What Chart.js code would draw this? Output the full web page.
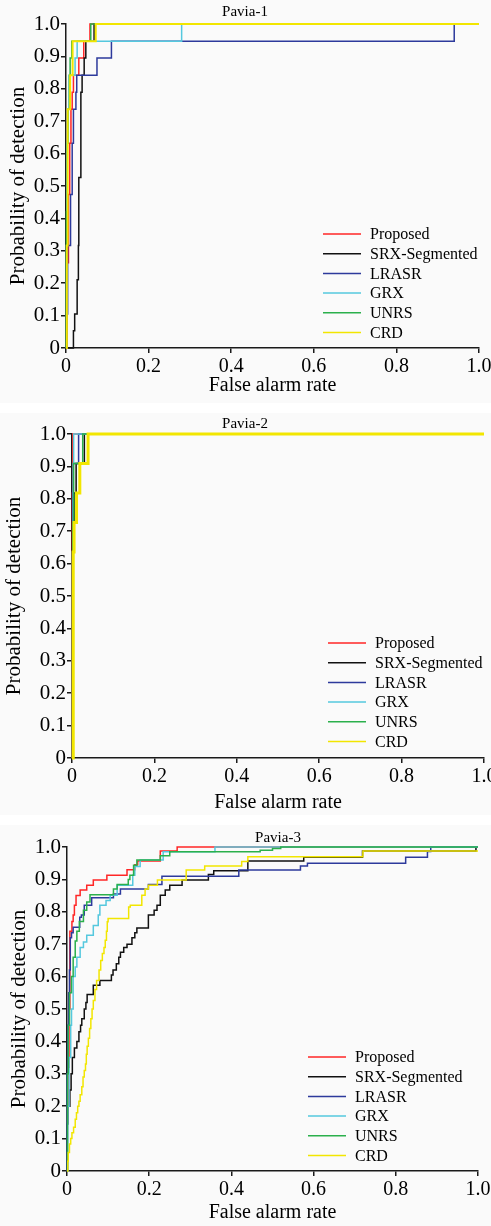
<!DOCTYPE html>
<html>
<head>
<meta charset="utf-8">
<title>ROC curves - Pavia</title>
<script src="https://cdn.jsdelivr.net/npm/chart.js@4.4.1/dist/chart.umd.min.js"></script>
<style>
    html, body { margin: 0; padding: 0; background: #ffffff; }
    .panel { position: absolute; left: 0; background: #fafafa; }
</style>
</head>
<body>

<canvas id="pavia1" class="panel" width="491" height="403" style="top:0px"></canvas>
<canvas id="pavia2" class="panel" width="491" height="402" style="top:413px"></canvas>
<canvas id="pavia3" class="panel" width="491" height="401" style="top:825px"></canvas>

<script>

/* ===============================
   Data (false alarm rate, detection)
=============================== */

const methods = ["Proposed", "SRX-Segmented", "LRASR", "GRX", "UNRS", "CRD"];

const xLabel = "False alarm rate";
const yLabel = "Probability of detection";

// Pavia-1
const p1Proposed = [[0,0],[0.003,0.263],[0.006,0.474],[0.009,0.632],[0.012,0.737],[0.015,0.789],[0.018,0.842],[0.031,0.895],[0.043,0.947],[0.058,1.0],[1,1]];
const p1Srx = [[0,0],[0.018,0.053],[0.021,0.105],[0.027,0.211],[0.030,0.316],[0.031,0.526],[0.036,0.789],[0.039,0.842],[0.044,0.895],[0.048,0.947],[0.068,1.0],[1,1]];
const p1Lrasr = [[0,0],[0.002,0.105],[0.004,0.316],[0.011,0.474],[0.015,0.632],[0.018,0.737],[0.024,0.789],[0.026,0.842],[0.075,0.895],[0.11,0.947],[0.94,1.0],[1,1]];
const p1Grx = [[0,0],[0.001,0.316],[0.002,0.632],[0.004,0.737],[0.008,0.842],[0.022,0.895],[0.027,0.947],[0.28,1.0],[1,1]];
const p1Unrs = [[0,0],[0.001,0.421],[0.003,0.632],[0.005,0.737],[0.008,0.842],[0.01,0.895],[0.014,0.947],[0.06,1.0],[1,1]];
const p1Crd = [[0,0],[0.002,0.316],[0.004,0.737],[0.01,0.842],[0.016,0.947],[0.072,1.0],[1,1]];

// Pavia-2
const p2Proposed = [[0,0],[0.001,0.818],[0.002,1.0],[1,1]];
const p2Srx = [[0,0],[0.003,0.727],[0.005,0.818],[0.01,0.909],[0.03,1.0],[1,1]];
const p2Lrasr = [[0,0],[0.002,0.818],[0.003,0.909],[0.016,1.0],[1,1]];
const p2Grx = [[0,0],[0.001,0.636],[0.003,0.909],[0.004,1.0],[1,1]];
const p2Unrs = [[0,0],[0.002,0.727],[0.004,0.909],[0.026,1.0],[1,1]];
const p2Crd = [[0,0],[0.003,0.636],[0.005,0.727],[0.011,0.818],[0.019,0.909],[0.039,1.0],[1,1]];

// Pavia-3
const p3Proposed = [[0,0],[0.001,0.2],[0.003,0.32],[0.005,0.5],[0.007,0.74],[0.012,0.77],[0.015,0.79],[0.018,0.82],[0.022,0.85],[0.032,0.867],[0.048,0.882],[0.064,0.898],[0.097,0.913],[0.146,0.93],[0.165,0.945],[0.172,0.957],[0.227,0.988],[0.268,1.0],[1,1]];
const p3Srx = [[0,0],[0,0.145],[0.002,0.2],[0.007,0.25],[0.01,0.3],[0.013,0.35],[0.018,0.38],[0.024,0.4],[0.029,0.43],[0.033,0.45],[0.036,0.47],[0.042,0.5],[0.046,0.52],[0.049,0.545],[0.064,0.573],[0.08,0.588],[0.108,0.605],[0.112,0.62],[0.12,0.64],[0.126,0.66],[0.13,0.675],[0.138,0.69],[0.146,0.7],[0.158,0.72],[0.165,0.735],[0.17,0.75],[0.198,0.79],[0.212,0.805],[0.219,0.82],[0.227,0.851],[0.239,0.867],[0.25,0.882],[0.28,0.898],[0.344,0.915],[0.357,0.927],[0.44,0.957],[0.576,0.968],[0.719,0.988],[0.995,1.0],[1,1]];
const p3Lrasr = [[0,0],[0,0.3],[0.002,0.45],[0.004,0.55],[0.006,0.62],[0.008,0.72],[0.011,0.735],[0.015,0.752],[0.031,0.783],[0.035,0.79],[0.042,0.82],[0.06,0.843],[0.113,0.855],[0.13,0.87],[0.198,0.884],[0.231,0.91],[0.418,0.929],[0.568,0.941],[0.585,0.95],[0.824,0.968],[0.877,0.986],[0.885,1.0],[1,1]];
const p3Grx = [[0,0],[0.002,0.2],[0.005,0.35],[0.009,0.45],[0.011,0.5],[0.015,0.6],[0.02,0.63],[0.024,0.66],[0.032,0.69],[0.04,0.707],[0.048,0.728],[0.064,0.758],[0.076,0.79],[0.08,0.82],[0.095,0.835],[0.105,0.851],[0.122,0.882],[0.16,0.913],[0.165,0.94],[0.178,0.96],[0.234,0.985],[0.36,1.0],[1,1]];
const p3Unrs = [[0,0],[0.001,0.3],[0.003,0.45],[0.006,0.55],[0.011,0.6],[0.015,0.66],[0.02,0.71],[0.024,0.74],[0.03,0.77],[0.04,0.805],[0.048,0.83],[0.056,0.853],[0.113,0.87],[0.122,0.884],[0.149,0.9],[0.153,0.913],[0.162,0.944],[0.17,0.96],[0.227,0.973],[0.25,0.985],[0.47,0.99],[0.5,0.995],[0.52,1.0],[1,1]];
const p3Crd = [[0,0],[0.002,0.03],[0.003,0.057],[0.006,0.083],[0.009,0.1],[0.012,0.118],[0.016,0.135],[0.02,0.16],[0.023,0.18],[0.026,0.2],[0.029,0.215],[0.032,0.235],[0.036,0.26],[0.039,0.29],[0.042,0.31],[0.045,0.33],[0.047,0.36],[0.049,0.385],[0.052,0.41],[0.055,0.44],[0.058,0.47],[0.061,0.5],[0.064,0.526],[0.068,0.56],[0.072,0.588],[0.078,0.62],[0.082,0.65],[0.086,0.671],[0.09,0.69],[0.093,0.712],[0.096,0.74],[0.098,0.769],[0.1,0.779],[0.15,0.815],[0.154,0.82],[0.182,0.851],[0.19,0.87],[0.198,0.882],[0.22,0.898],[0.29,0.929],[0.335,0.941],[0.425,0.955],[0.44,0.97],[0.72,0.988],[1,0.988]];

/* ===============================
   Styles
=============================== */

const lineColors = ["#ff2626", "#111111", "#2d3a9c", "#55c8de", "#2bb04c", "#f2e600"];
const drawOrder = [5, 4, 3, 2, 1, 0];   // CRD on top

Chart.defaults.font.family = "'Liberation Serif', 'Times New Roman', serif";
Chart.defaults.color = "#000";

/* ===============================
   Title + legend plugin
=============================== */

const panelDecor = {
    id: "panelDecor",
    afterDraw(chart, args, opts) {
        const ctx = chart.ctx;
        ctx.save();

        ctx.fillStyle = "#000";
        ctx.textBaseline = "middle";

        ctx.font = "15px 'Liberation Serif'";
        ctx.textAlign = "center";
        ctx.fillText(opts.title, opts.titleX, opts.titleY);

        ctx.font = "16px 'Liberation Serif'";
        ctx.textAlign = "left";
        chart.data.datasets.forEach(function (ds, i) {
            const y = opts.legendY + i * opts.legendRow;
            ctx.strokeStyle = ds.borderColor;
            ctx.lineWidth = 1.5;
            ctx.beginPath();
            ctx.moveTo(opts.legendX, y);
            ctx.lineTo(opts.legendX + 38, y);
            ctx.stroke();
            ctx.fillText(ds.label, opts.legendX + 47, y + 1);
        });

        ctx.restore();
    }
};

function tickText(v) {
    return v === 0 ? "0" : v.toFixed(1);
}

/* ===============================
   Build one panel
=============================== */

function makePanel(id, title, series, box) {

    const canvas = document.getElementById(id);
    const H = canvas.height;

    const datasets = series.map(function (pts, i) {
        return {
            label: methods[i],
            data: pts.map(function (p) { return { x: p[0], y: p[1] }; }),
            borderColor: lineColors[i],
            borderWidth: i === 5 ? box.crdWidth : 1.5,
            pointRadius: 0,
            stepped: "before",
            fill: false,
            clip: false,
            order: drawOrder[i]
        };
    });

    new Chart(canvas, {
        type: "line",
        data: { datasets: datasets },
        plugins: [panelDecor],
        options: {
            responsive: false,
            animation: false,
            devicePixelRatio: 1,
            layout: {
                padding: { left: 0, top: box.top, right: 491 - box.right, bottom: 0 }
            },
            plugins: {
                legend: { display: false },
                tooltip: { enabled: false },
                panelDecor: {
                    title: title,
                    titleX: box.titleX,
                    titleY: box.titleY,
                    legendX: box.legendX,
                    legendY: box.legendY,
                    legendRow: 19.7
                }
            },
            scales: {
                x: {
                    type: "linear",
                    min: 0,
                    max: 1,
                    border: { display: true, color: "#1a1a1a", width: 1.5 },
                    grid: { drawOnChartArea: false, drawTicks: true, tickLength: 5, color: "#1a1a1a", lineWidth: 1.5 },
                    ticks: {
                        stepSize: 0.2,
                        autoSkip: false,
                        maxRotation: 0,
                        padding: 2,
                        font: { size: 20 },
                        callback: tickText
                    },
                    title: {
                        display: true,
                        text: xLabel,
                        font: { size: 20, lineHeight: 1 },
                        padding: { top: 0, bottom: box.xTitlePad }
                    },
                    afterFit: function (scale) {
                        scale.height = H - box.bottom;
                        scale.paddingLeft = 0;
                        scale.paddingRight = 0;
                    }
                },
                y: {
                    min: 0,
                    max: 1,
                    border: { display: true, color: "#1a1a1a", width: 1.5 },
                    grid: { drawOnChartArea: false, drawTicks: true, tickLength: 5, color: "#1a1a1a", lineWidth: 1.5 },
                    ticks: {
                        stepSize: 0.1,
                        autoSkip: false,
                        padding: 1,
                        font: { size: 21 },
                        callback: tickText
                    },
                    title: {
                        display: true,
                        text: yLabel,
                        font: { size: 21, lineHeight: 1 },
                        padding: { top: box.yTitleX - 10.5, bottom: 0 }
                    },
                    afterFit: function (scale) {
                        scale.width = box.left;
                        scale.paddingTop = 0;
                        scale.paddingBottom = 0;
                    }
                }
            }
        }
    });
}

document.addEventListener("DOMContentLoaded", function () {

    makePanel("pavia1", "Pavia-1",
        [p1Proposed, p1Srx, p1Lrasr, p1Grx, p1Unrs, p1Crd],
        { left: 66, right: 479, top: 24, bottom: 348, crdWidth: 2,
          titleX: 245, titleY: 12, legendX: 323, legendY: 234,
          xTitlePad: 7, yTitleX: 18 });

    makePanel("pavia2", "Pavia-2",
        [p2Proposed, p2Srx, p2Lrasr, p2Grx, p2Unrs, p2Crd],
        { left: 72, right: 484, top: 21, bottom: 345, crdWidth: 3,
          titleX: 245, titleY: 11, legendX: 328, legendY: 230,
          xTitlePad: 2, yTitleX: 14 });

    makePanel("pavia3", "Pavia-3",
        [p3Proposed, p3Srx, p3Lrasr, p3Grx, p3Unrs, p3Crd],
        { left: 67, right: 478, top: 22, bottom: 346, crdWidth: 1.5,
          titleX: 278, titleY: 13, legendX: 308, legendY: 232,
          xTitlePad: 3, yTitleX: 19 });

});

</script>
</body>
</html>
